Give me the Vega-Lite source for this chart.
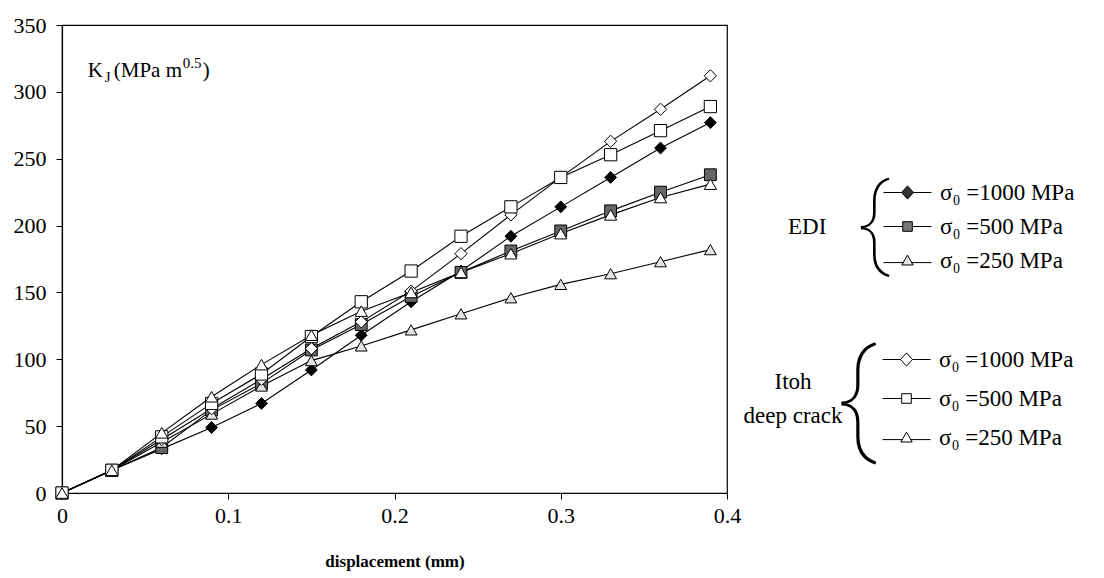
{
  "$schema": "https://vega.github.io/schema/vega-lite/v6.json",
  "width": 665,
  "height": 468,
  "autosize": {"type": "none"},
  "padding": {"left": 62, "top": 25, "right": 377, "bottom": 85},
  "background": "white",
  "config": {
    "font": "Liberation Serif",
    "view": {"stroke": "black", "strokeWidth": 1.2},
    "axis": {"grid": false, "labelFlush": false, "domainColor": "black", "domainWidth": 1.2, "tickColor": "black", "tickSize": 6, "labelColor": "black", "labelFont": "Liberation Serif", "labelFontSize": 22, "titleFont": "Liberation Serif", "titleColor": "black"},
    "legend": {"labelFont": "Liberation Serif", "labelFontSize": 23, "labelColor": "black", "titleFont": "Liberation Serif", "titleFontSize": 23, "titleFontWeight": "normal", "titleColor": "black", "titleOrient": "left", "titleAnchor": "middle", "titleBaseline": "middle", "symbolSize": 144, "symbolOpacity": 1, "symbolStrokeWidth": 1, "labelOffset": 21, "padding": 0, "offset": 0}
  },
  "datasets": {
    "curves": [
      {"series": "Itoh 1000", "group": "Itoh", "displacement": 0, "KJ": 0},
      {"series": "Itoh 1000", "group": "Itoh", "displacement": 0.03, "KJ": 17},
      {"series": "Itoh 1000", "group": "Itoh", "displacement": 0.06, "KJ": 40},
      {"series": "Itoh 1000", "group": "Itoh", "displacement": 0.09, "KJ": 63},
      {"series": "Itoh 1000", "group": "Itoh", "displacement": 0.12, "KJ": 85},
      {"series": "Itoh 1000", "group": "Itoh", "displacement": 0.15, "KJ": 108},
      {"series": "Itoh 1000", "group": "Itoh", "displacement": 0.18, "KJ": 128},
      {"series": "Itoh 1000", "group": "Itoh", "displacement": 0.21, "KJ": 151},
      {"series": "Itoh 1000", "group": "Itoh", "displacement": 0.24, "KJ": 179},
      {"series": "Itoh 1000", "group": "Itoh", "displacement": 0.27, "KJ": 208},
      {"series": "Itoh 1000", "group": "Itoh", "displacement": 0.30, "KJ": 236},
      {"series": "Itoh 1000", "group": "Itoh", "displacement": 0.33, "KJ": 263},
      {"series": "Itoh 1000", "group": "Itoh", "displacement": 0.36, "KJ": 287},
      {"series": "Itoh 1000", "group": "Itoh", "displacement": 0.39, "KJ": 312},
      {"series": "Itoh 500", "group": "Itoh", "displacement": 0, "KJ": 0},
      {"series": "Itoh 500", "group": "Itoh", "displacement": 0.03, "KJ": 17},
      {"series": "Itoh 500", "group": "Itoh", "displacement": 0.06, "KJ": 42},
      {"series": "Itoh 500", "group": "Itoh", "displacement": 0.09, "KJ": 67},
      {"series": "Itoh 500", "group": "Itoh", "displacement": 0.12, "KJ": 89},
      {"series": "Itoh 500", "group": "Itoh", "displacement": 0.15, "KJ": 117},
      {"series": "Itoh 500", "group": "Itoh", "displacement": 0.18, "KJ": 143},
      {"series": "Itoh 500", "group": "Itoh", "displacement": 0.21, "KJ": 166},
      {"series": "Itoh 500", "group": "Itoh", "displacement": 0.24, "KJ": 192},
      {"series": "Itoh 500", "group": "Itoh", "displacement": 0.27, "KJ": 214},
      {"series": "Itoh 500", "group": "Itoh", "displacement": 0.30, "KJ": 236},
      {"series": "Itoh 500", "group": "Itoh", "displacement": 0.33, "KJ": 253},
      {"series": "Itoh 500", "group": "Itoh", "displacement": 0.36, "KJ": 271},
      {"series": "Itoh 500", "group": "Itoh", "displacement": 0.39, "KJ": 289},
      {"series": "Itoh 250", "group": "Itoh", "displacement": 0, "KJ": 0},
      {"series": "Itoh 250", "group": "Itoh", "displacement": 0.03, "KJ": 17},
      {"series": "Itoh 250", "group": "Itoh", "displacement": 0.06, "KJ": 45},
      {"series": "Itoh 250", "group": "Itoh", "displacement": 0.09, "KJ": 72},
      {"series": "Itoh 250", "group": "Itoh", "displacement": 0.12, "KJ": 96},
      {"series": "Itoh 250", "group": "Itoh", "displacement": 0.15, "KJ": 118},
      {"series": "Itoh 250", "group": "Itoh", "displacement": 0.18, "KJ": 136},
      {"series": "Itoh 250", "group": "Itoh", "displacement": 0.21, "KJ": 150},
      {"series": "Itoh 250", "group": "Itoh", "displacement": 0.24, "KJ": 165},
      {"series": "Itoh 250", "group": "Itoh", "displacement": 0.27, "KJ": 179},
      {"series": "Itoh 250", "group": "Itoh", "displacement": 0.30, "KJ": 194},
      {"series": "Itoh 250", "group": "Itoh", "displacement": 0.33, "KJ": 208},
      {"series": "Itoh 250", "group": "Itoh", "displacement": 0.36, "KJ": 221},
      {"series": "Itoh 250", "group": "Itoh", "displacement": 0.39, "KJ": 231},
      {"series": "EDI 1000", "group": "EDI", "displacement": 0, "KJ": 0},
      {"series": "EDI 1000", "group": "EDI", "displacement": 0.03, "KJ": 17},
      {"series": "EDI 1000", "group": "EDI", "displacement": 0.06, "KJ": 33},
      {"series": "EDI 1000", "group": "EDI", "displacement": 0.09, "KJ": 49},
      {"series": "EDI 1000", "group": "EDI", "displacement": 0.12, "KJ": 67},
      {"series": "EDI 1000", "group": "EDI", "displacement": 0.15, "KJ": 92},
      {"series": "EDI 1000", "group": "EDI", "displacement": 0.18, "KJ": 118},
      {"series": "EDI 1000", "group": "EDI", "displacement": 0.21, "KJ": 143},
      {"series": "EDI 1000", "group": "EDI", "displacement": 0.24, "KJ": 166},
      {"series": "EDI 1000", "group": "EDI", "displacement": 0.27, "KJ": 192},
      {"series": "EDI 1000", "group": "EDI", "displacement": 0.30, "KJ": 214},
      {"series": "EDI 1000", "group": "EDI", "displacement": 0.33, "KJ": 236},
      {"series": "EDI 1000", "group": "EDI", "displacement": 0.36, "KJ": 258},
      {"series": "EDI 1000", "group": "EDI", "displacement": 0.39, "KJ": 277},
      {"series": "EDI 500", "group": "EDI", "displacement": 0, "KJ": 0},
      {"series": "EDI 500", "group": "EDI", "displacement": 0.03, "KJ": 17},
      {"series": "EDI 500", "group": "EDI", "displacement": 0.06, "KJ": 34},
      {"series": "EDI 500", "group": "EDI", "displacement": 0.09, "KJ": 62},
      {"series": "EDI 500", "group": "EDI", "displacement": 0.12, "KJ": 82},
      {"series": "EDI 500", "group": "EDI", "displacement": 0.15, "KJ": 107},
      {"series": "EDI 500", "group": "EDI", "displacement": 0.18, "KJ": 126},
      {"series": "EDI 500", "group": "EDI", "displacement": 0.21, "KJ": 147},
      {"series": "EDI 500", "group": "EDI", "displacement": 0.24, "KJ": 165},
      {"series": "EDI 500", "group": "EDI", "displacement": 0.27, "KJ": 181},
      {"series": "EDI 500", "group": "EDI", "displacement": 0.30, "KJ": 196},
      {"series": "EDI 500", "group": "EDI", "displacement": 0.33, "KJ": 211},
      {"series": "EDI 500", "group": "EDI", "displacement": 0.36, "KJ": 225},
      {"series": "EDI 500", "group": "EDI", "displacement": 0.39, "KJ": 238},
      {"series": "EDI 250", "group": "EDI", "displacement": 0, "KJ": 0},
      {"series": "EDI 250", "group": "EDI", "displacement": 0.03, "KJ": 17},
      {"series": "EDI 250", "group": "EDI", "displacement": 0.06, "KJ": 38},
      {"series": "EDI 250", "group": "EDI", "displacement": 0.09, "KJ": 59},
      {"series": "EDI 250", "group": "EDI", "displacement": 0.12, "KJ": 80},
      {"series": "EDI 250", "group": "EDI", "displacement": 0.15, "KJ": 99},
      {"series": "EDI 250", "group": "EDI", "displacement": 0.18, "KJ": 110},
      {"series": "EDI 250", "group": "EDI", "displacement": 0.21, "KJ": 122},
      {"series": "EDI 250", "group": "EDI", "displacement": 0.24, "KJ": 134},
      {"series": "EDI 250", "group": "EDI", "displacement": 0.27, "KJ": 146},
      {"series": "EDI 250", "group": "EDI", "displacement": 0.30, "KJ": 156},
      {"series": "EDI 250", "group": "EDI", "displacement": 0.33, "KJ": 164},
      {"series": "EDI 250", "group": "EDI", "displacement": 0.36, "KJ": 173},
      {"series": "EDI 250", "group": "EDI", "displacement": 0.39, "KJ": 182}
    ],
    "note": [{"label": "K"}]
  },
  "layer": [
    {"data": {"name": "curves"},
     "mark": {"type": "line", "color": "black", "strokeWidth": 1.1},
     "encoding": {
       "x": {"field": "displacement", "type": "quantitative", "scale": {"domain": [0, 0.4], "nice": false, "zero": false},
         "axis": {"values": [0, 0.1, 0.2, 0.3, 0.4], "format": "~g", "labelPadding": 6, "title": "displacement (mm)", "titleFontSize": 17, "titleFontWeight": "bold", "titlePadding": 27}},
       "y": {"field": "KJ", "type": "quantitative", "scale": {"domain": [0, 350], "nice": false, "zero": false},
         "axis": {"values": [0, 50, 100, 150, 200, 250, 300, 350], "format": "d", "labelPadding": 10, "title": null}},
       "detail": {"field": "series"}
     }},
    {"data": {"name": "curves"},
     "transform": [{"filter": "datum.group == 'EDI'"}],
     "mark": {"type": "point", "filled": true, "size": 140, "stroke": "black", "strokeWidth": 1, "opacity": 1},
     "encoding": {
       "x": {"field": "displacement", "type": "quantitative"},
       "y": {"field": "KJ", "type": "quantitative"},
       "shape": {"field": "series", "type": "nominal", "scale": {"domain": ["EDI 1000", "EDI 500", "EDI 250"], "range": ["diamond", "square", "triangle-up"]}, "legend": null},
       "fill": {"field": "series", "type": "nominal", "scale": {"domain": ["EDI 1000", "EDI 500", "EDI 250"], "range": ["black", "#666666", "#e4e4e4"]}, "legend": null}
     }},
    {"data": {"name": "curves"},
     "transform": [{"filter": "datum.group == 'Itoh'"}],
     "mark": {"type": "point", "filled": true, "fill": "white", "size": 150, "stroke": "black", "strokeWidth": 1, "opacity": 1},
     "encoding": {
       "x": {"field": "displacement", "type": "quantitative"},
       "y": {"field": "KJ", "type": "quantitative"},
       "shape": {"field": "series", "type": "nominal", "scale": {"domain": ["Itoh 1000", "Itoh 500", "Itoh 250"], "range": ["diamond", "square", "triangle-up"]}, "legend": null}
     }},
    {"data": {"name": "curves"},
     "transform": [{"filter": "datum.group == 'legend only'"}],
     "mark": {"type": "point", "filled": true, "size": 144, "strokeWidth": 1, "opacity": 1},
     "encoding": {
       "x": {"field": "displacement", "type": "quantitative"},
       "y": {"field": "KJ", "type": "quantitative"},
       "shape": {"field": "series", "type": "nominal",
         "scale": {"domain": ["EDI 1000", "EDI 500", "EDI 250"], "range": ["M-4,0H-1M1,0H4M0,-1.1L1,0L0,1.1L-1,0Z", "M-4,0H-0.8M0.8,0H4M-0.8,-0.8H0.8V0.8H-0.8Z", "M-4,0.35H-0.6M0.6,0.35H4M0,-0.9L0.95,0.75H-0.95Z"]},
         "legend": {"title": "EDI", "orient": "none", "legendX": 726, "legendY": 156, "rowPadding": 10, "titlePadding": 69,
           "labelExpr": "'σ₀ =' + split(datum.label, ' ')[1] + ' MPa'"}},
       "fill": {"field": "series", "type": "nominal", "scale": {"domain": ["EDI 1000", "EDI 500", "EDI 250"], "range": ["#333333", "#777777", "#e4e4e4"]},
         "legend": {"title": "EDI", "orient": "none", "legendX": 726, "legendY": 156, "rowPadding": 10, "titlePadding": 69,
           "labelExpr": "'σ₀ =' + split(datum.label, ' ')[1] + ' MPa'"}},
       "stroke": {"field": "series", "type": "nominal", "scale": {"domain": ["EDI 1000", "EDI 500", "EDI 250"], "range": ["black", "black", "black"]},
         "legend": {"title": "EDI", "orient": "none", "legendX": 726, "legendY": 156, "rowPadding": 10, "titlePadding": 69,
           "labelExpr": "'σ₀ =' + split(datum.label, ' ')[1] + ' MPa'"}}
     }},
    {"data": {"name": "curves"},
     "transform": [{"filter": "datum.group == 'legend only'"}],
     "mark": {"type": "point", "filled": true, "fill": "white", "size": 144, "strokeWidth": 1, "opacity": 1},
     "encoding": {
       "x": {"field": "displacement", "type": "quantitative"},
       "y": {"field": "KJ", "type": "quantitative"},
       "shape": {"field": "series", "type": "nominal",
         "scale": {"domain": ["Itoh 1000", "Itoh 500", "Itoh 250"], "range": ["M-4,0H-1M1,0H4M0,-1.1L1,0L0,1.1L-1,0Z", "M-4,0H-0.8M0.8,0H4M-0.8,-0.8H0.8V0.8H-0.8Z", "M-4,0.35H-0.6M0.6,0.35H4M0,-0.9L0.95,0.75H-0.95Z"]},
         "legend": {"title": ["Itoh", "deep crack"], "titleAlign": "center", "titleLineHeight": 34, "orient": "none", "legendX": 682, "legendY": 323, "rowPadding": 15, "titlePadding": 3,
           "labelExpr": "'σ₀ =' + split(datum.label, ' ')[1] + ' MPa'"}},
       "stroke": {"field": "series", "type": "nominal", "scale": {"domain": ["Itoh 1000", "Itoh 500", "Itoh 250"], "range": ["black", "black", "black"]},
         "legend": {"title": ["Itoh", "deep crack"], "titleAlign": "center", "titleLineHeight": 34, "orient": "none", "legendX": 682, "legendY": 323, "rowPadding": 15, "titlePadding": 3,
           "labelExpr": "'σ₀ =' + split(datum.label, ' ')[1] + ' MPa'"}}
     }},
    {"data": {"name": "note"}, "mark": {"type": "text", "align": "left", "baseline": "alphabetic", "fontSize": 21, "color": "black", "text": "K"},
     "encoding": {"x": {"datum": 0.0155, "type": "quantitative"}, "y": {"datum": 311, "type": "quantitative"}}},
    {"data": {"name": "note"}, "mark": {"type": "text", "align": "left", "baseline": "alphabetic", "fontSize": 15, "dx": 17, "dy": 5, "color": "black", "text": "J"},
     "encoding": {"x": {"datum": 0.0155, "type": "quantitative"}, "y": {"datum": 311, "type": "quantitative"}}},
    {"data": {"name": "note"}, "mark": {"type": "text", "align": "left", "baseline": "alphabetic", "fontSize": 21, "dx": 26, "color": "black", "text": "(MPa m"},
     "encoding": {"x": {"datum": 0.0155, "type": "quantitative"}, "y": {"datum": 311, "type": "quantitative"}}},
    {"data": {"name": "note"}, "mark": {"type": "text", "align": "left", "baseline": "alphabetic", "fontSize": 15, "dx": 95, "dy": -9, "color": "black", "text": "0.5"},
     "encoding": {"x": {"datum": 0.0155, "type": "quantitative"}, "y": {"datum": 311, "type": "quantitative"}}},
    {"data": {"name": "note"}, "mark": {"type": "text", "align": "left", "baseline": "alphabetic", "fontSize": 21, "dx": 115, "color": "black", "text": ")"},
     "encoding": {"x": {"datum": 0.0155, "type": "quantitative"}, "y": {"datum": 311, "type": "quantitative"}}},
    {"data": {"name": "note"}, "mark": {"type": "text", "align": "center", "baseline": "middle", "font": "Roboto", "fontWeight": 100, "fontSize": 100, "color": "black", "text": "{"},
     "encoding": {"x": {"datum": 0.488, "type": "quantitative"}, "y": {"datum": 200, "type": "quantitative"}}},
    {"data": {"name": "note"}, "mark": {"type": "text", "align": "center", "baseline": "middle", "font": "Roboto", "fontWeight": 100, "fontSize": 122, "color": "black", "text": "{"},
     "encoding": {"x": {"datum": 0.478, "type": "quantitative"}, "y": {"datum": 69, "type": "quantitative"}}}
  ],
  "resolve": {"scale": {"shape": "independent", "fill": "independent", "stroke": "independent"}}
}
